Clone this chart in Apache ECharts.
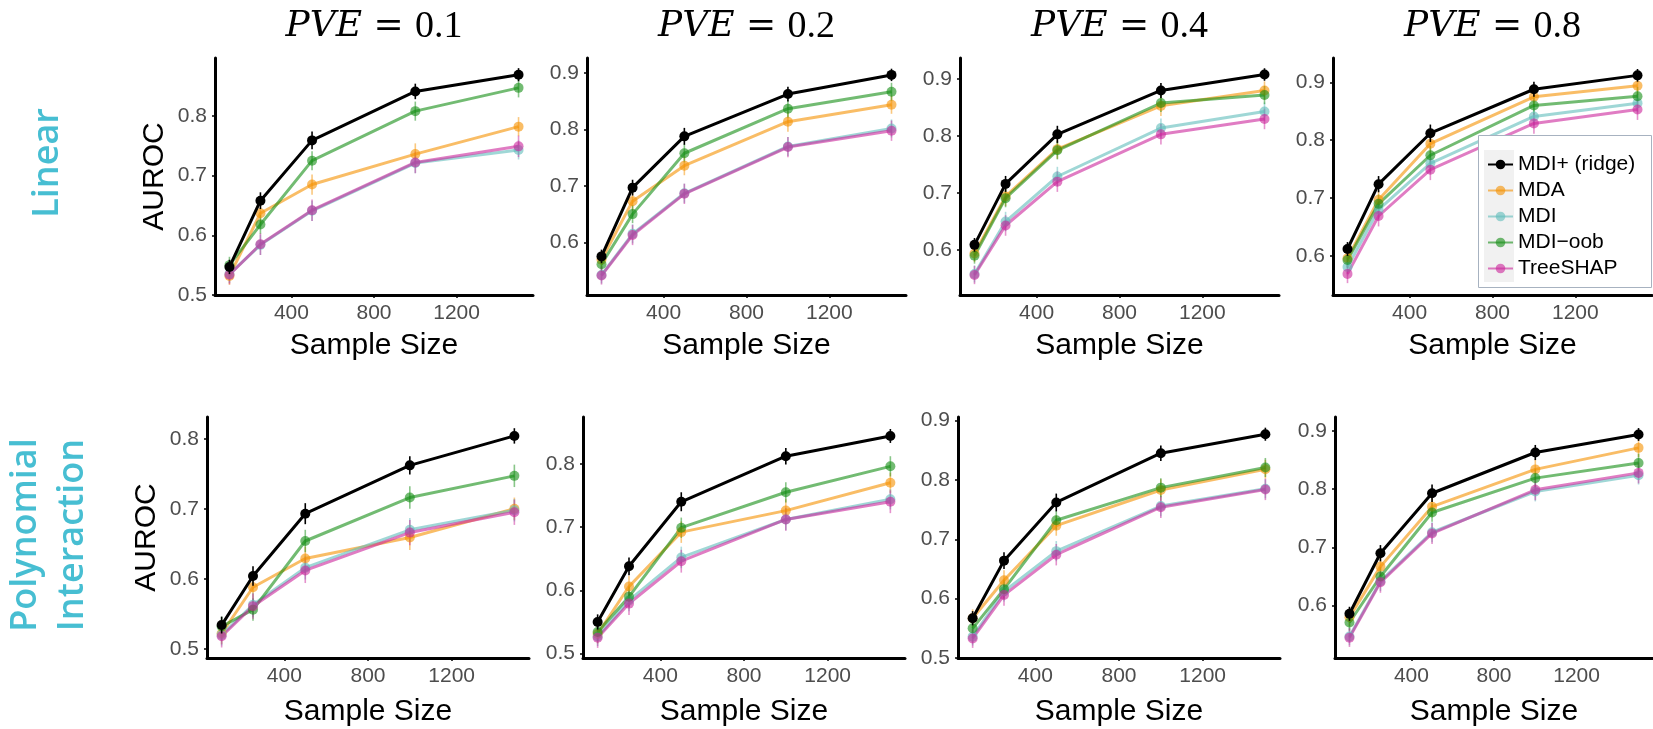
<!DOCTYPE html>
<html>
<head>
<meta charset="utf-8">
<script src="https://cdn.jsdelivr.net/npm/echarts@6/dist/echarts.min.js"></script>
<style>
html, body { margin: 0; padding: 0; background: #fff; }
#chart { width: 1653px; height: 729px; }
</style>
</head>
<body>
<div id="chart"></div>
<script>
// sample sizes on x, one column per PVE level
const sampleSizes = [100, 250, 500, 1000, 1500];
const pveLabels = ['0.1', '0.2', '0.4', '0.8'];
const rowLabels = ['Linear', 'Polynomial\nInteraction'];
const methods = ['MDI+ (ridge)', 'MDA', 'MDI', 'MDI\u2212oob', 'TreeSHAP'];
const xTicks = [400, 800, 1200];
const yTicks = [0.5, 0.6, 0.7, 0.8, 0.9];

// Linear row, one array per PVE column
const linMdiPlus = [
    [0.547, 0.658, 0.759, 0.841, 0.869],
    [0.575, 0.697, 0.788, 0.863, 0.897],
    [0.609, 0.716, 0.803, 0.880, 0.908],
    [0.612, 0.724, 0.812, 0.888, 0.912]
];
const linMda = [
    [0.532, 0.637, 0.685, 0.736, 0.782],
    [0.569, 0.673, 0.736, 0.814, 0.844],
    [0.594, 0.694, 0.777, 0.853, 0.880],
    [0.596, 0.697, 0.794, 0.875, 0.894]
];
const linMdi = [
    [0.535, 0.584, 0.641, 0.721, 0.743],
    [0.542, 0.615, 0.687, 0.770, 0.802],
    [0.558, 0.650, 0.729, 0.814, 0.843],
    [0.581, 0.680, 0.760, 0.841, 0.864]
];
const linMdiOob = [
    [0.550, 0.618, 0.725, 0.808, 0.847],
    [0.561, 0.650, 0.758, 0.837, 0.867],
    [0.590, 0.691, 0.775, 0.858, 0.872],
    [0.593, 0.690, 0.774, 0.860, 0.876]
];
const linTreeShap = [
    [0.534, 0.585, 0.642, 0.722, 0.749],
    [0.541, 0.613, 0.686, 0.769, 0.798],
    [0.556, 0.643, 0.720, 0.803, 0.830],
    [0.569, 0.669, 0.749, 0.829, 0.853]
];

// Polynomial interaction row
const polyMdiPlus = [
    [0.534, 0.604, 0.693, 0.762, 0.804],
    [0.550, 0.638, 0.740, 0.812, 0.844],
    [0.567, 0.664, 0.762, 0.845, 0.877],
    [0.586, 0.690, 0.793, 0.863, 0.894]
];
const polyMda = [
    [0.522, 0.588, 0.629, 0.659, 0.700],
    [0.531, 0.606, 0.692, 0.726, 0.770],
    [0.567, 0.631, 0.723, 0.783, 0.818],
    [0.580, 0.667, 0.770, 0.834, 0.871]
];
const polyMdi = [
    [0.520, 0.563, 0.616, 0.670, 0.698],
    [0.527, 0.584, 0.652, 0.712, 0.744],
    [0.536, 0.612, 0.680, 0.756, 0.785],
    [0.547, 0.642, 0.726, 0.796, 0.824]
];
const polyMdiOob = [
    [0.532, 0.556, 0.654, 0.716, 0.747],
    [0.534, 0.590, 0.699, 0.755, 0.796],
    [0.550, 0.616, 0.732, 0.787, 0.821],
    [0.571, 0.650, 0.760, 0.819, 0.845]
];
const polyTreeShap = [
    [0.518, 0.561, 0.612, 0.666, 0.695],
    [0.525, 0.579, 0.646, 0.712, 0.740],
    [0.533, 0.606, 0.674, 0.754, 0.784],
    [0.545, 0.640, 0.724, 0.799, 0.828]
];

// half length of the error bars
const errMdiPlus = [0.012, 0.014, 0.015, 0.013, 0.011];
const errMda = [0.015, 0.017, 0.017, 0.018, 0.016];
const errMdi = [0.015, 0.017, 0.017, 0.017, 0.016];
const errMdiOob = [0.014, 0.016, 0.016, 0.016, 0.016];
const errTreeShap = [0.016, 0.018, 0.018, 0.018, 0.018];

// y range of each panel (ggplot expanded limits)
const yMinTop = [0.500, 0.5065, 0.521, 0.5325];
const yMaxTop = [0.897, 0.927, 0.937, 0.942];
const yMinBottom = [0.487, 0.493, 0.500, 0.510];
const yMaxBottom = [0.831, 0.874, 0.906, 0.924];

const rows = [
    [linMdiPlus, linMda, linMdi, linMdiOob, linTreeShap],
    [polyMdiPlus, polyMda, polyMdi, polyMdiOob, polyTreeShap]
];
const errs = [errMdiPlus, errMda, errMdi, errMdiOob, errTreeShap];
const colors = ['#000000', '#F59100', '#5FBCBB', '#148E14', '#CB259B'];
const alphas = [1, 0.6, 0.6, 0.6, 0.6];

const gridTop = [
    { left: 215, width: 318 }, { left: 587, width: 319 },
    { left: 960, width: 319 }, { left: 1333, width: 319 }
];
const gridBottom = [
    { left: 207, width: 322 }, { left: 583, width: 322 },
    { left: 958, width: 322 }, { left: 1335, width: 320 }
];

const tickFont = 'Liberation Sans';
let grid = [], xAxis = [], yAxis = [], series = [], graphic = [];

for (let r = 0; r < 2; r++) {
    for (let c = 0; c < 4; c++) {
        let k = r * 4 + c;
        let g = r == 0 ? gridTop[c] : gridBottom[c];
        let ymin = r == 0 ? yMinTop[c] : yMinBottom[c];
        let ymax = r == 0 ? yMaxTop[c] : yMaxBottom[c];
        grid.push({
            left: g.left, width: g.width,
            top: r == 0 ? 58 : 417,
            height: r == 0 ? 237 : 241
        });
        xAxis.push({
            type: 'value', gridIndex: k, min: 30, max: 1570,
            name: 'Sample Size', nameLocation: 'middle', nameGap: r == 0 ? 36 : 39,
            nameTextStyle: { fontFamily: tickFont, fontSize: 30, color: '#000' },
            axisLine: { lineStyle: { color: '#000', width: 3 } },
            axisTick: { customValues: xTicks, length: 3, lineStyle: { color: '#000', width: 1.5 } },
            axisLabel: {
                customValues: xTicks, fontFamily: tickFont, fontSize: 21, color: '#4d4d4d', margin: 8,
                formatter: v => String(v)
            },
            splitLine: { show: false }
        });
        let yt = yTicks.filter(v => v >= ymin - 1e-9 && v <= ymax);
        yAxis.push({
            type: 'value', gridIndex: k, min: ymin, max: ymax,
            name: c == 0 ? 'AUROC' : '', nameLocation: 'middle', nameGap: 45,
            nameTextStyle: { fontFamily: tickFont, fontSize: 30, color: '#000' },
            axisLine: { show: true, lineStyle: { color: '#000', width: 3 } },
            axisTick: { show: true, customValues: yt, length: 3, lineStyle: { color: '#000', width: 1.5 } },
            axisLabel: {
                customValues: yt, fontFamily: tickFont, fontSize: 21, color: '#4d4d4d', margin: 8,
                formatter: v => v.toFixed(1)
            },
            splitLine: { show: false }
        });

        // colored methods first, black on top
        for (let m of [1, 2, 3, 4, 0]) {
            let vals = rows[r][m][c];
            series.push({
                type: 'custom', name: methods[m] + ' err',
                xAxisIndex: k, yAxisIndex: k, z: m == 0 ? 3 : 2,
                itemStyle: { color: colors[m] },
                data: sampleSizes.map((x, i) => [x, vals[i] - errs[m][i], vals[i] + errs[m][i]]),
                encode: { x: 0, y: [1, 2] },
                renderItem: function (params, api) {
                    let p1 = api.coord([api.value(0), api.value(1)]);
                    let p2 = api.coord([api.value(0), api.value(2)]);
                    return {
                        type: 'line',
                        shape: { x1: p1[0], y1: p1[1], x2: p2[0], y2: p2[1] },
                        style: { stroke: colors[m], lineWidth: 1.6, opacity: m == 0 ? 1 : 0.5 }
                    };
                }
            });
            series.push({
                type: 'line', name: methods[m],
                xAxisIndex: k, yAxisIndex: k, z: m == 0 ? 3 : 2,
                data: sampleSizes.map((x, i) => [x, vals[i]]),
                symbol: 'circle', symbolSize: 10,
                lineStyle: { color: colors[m], width: 3, opacity: alphas[m] },
                itemStyle: { color: colors[m], opacity: alphas[m] },
                emphasis: { disabled: true },
                animation: false
            });
        }

        if (r == 0) {
            graphic.push({
                type: 'text', x: g.left + g.width / 2, y: 27, z: 5,
                style: {
                    text: '{i|PVE}{e| = }{n|' + pveLabels[c] + '}',
                    align: 'center', verticalAlign: 'middle', fill: '#000',
                    rich: {
                        i: { fontFamily: 'DejaVu Serif', fontStyle: 'italic', fontSize: 36 },
                        e: { fontFamily: 'DejaVu Serif', fontSize: 36 },
                        n: { fontFamily: 'Liberation Serif', fontSize: 38 }
                    }
                }
            });
        }
    }
}

graphic.push({
    type: 'text', x: 48, y: 163, rotation: Math.PI / 2, z: 5,
    style: { text: rowLabels[0], font: '600 36px "Open Sans"', fill: '#47BED2', align: 'center', verticalAlign: 'middle' }
});
graphic.push({
    type: 'text', x: 49, y: 535, rotation: Math.PI / 2, z: 5,
    style: { text: rowLabels[1], font: '600 36px "Open Sans"', lineHeight: 47, fill: '#47BED2', align: 'center', verticalAlign: 'middle' }
});
// legend box and grey key strip
graphic.push({
    type: 'rect', z: 4, shape: { x: 1478.5, y: 135.5, width: 173, height: 152 },
    style: { fill: '#fff', stroke: '#a7b2c0', lineWidth: 1 }
});
graphic.push({
    type: 'rect', z: 4, shape: { x: 1484, y: 150, width: 30, height: 132 },
    style: { fill: '#f1f1f1' }
});

let MyChart = echarts.init(document.getElementById('chart'), null, { renderer: 'canvas' });
MyChart.setOption({
    animation: false,
    backgroundColor: '#fff',
    grid: grid,
    xAxis: xAxis,
    yAxis: yAxis,
    series: series,
    graphic: graphic,
    legend: {
        data: methods, orient: 'vertical', left: 1477, top: 135, z: 6,
        padding: [19, 10, 8, 10], itemGap: 5, itemWidth: 25, itemHeight: 12,
        selectedMode: false,
        textStyle: { fontFamily: tickFont, fontSize: 21, color: '#000' }
    }
});
</script>
</body>
</html>
